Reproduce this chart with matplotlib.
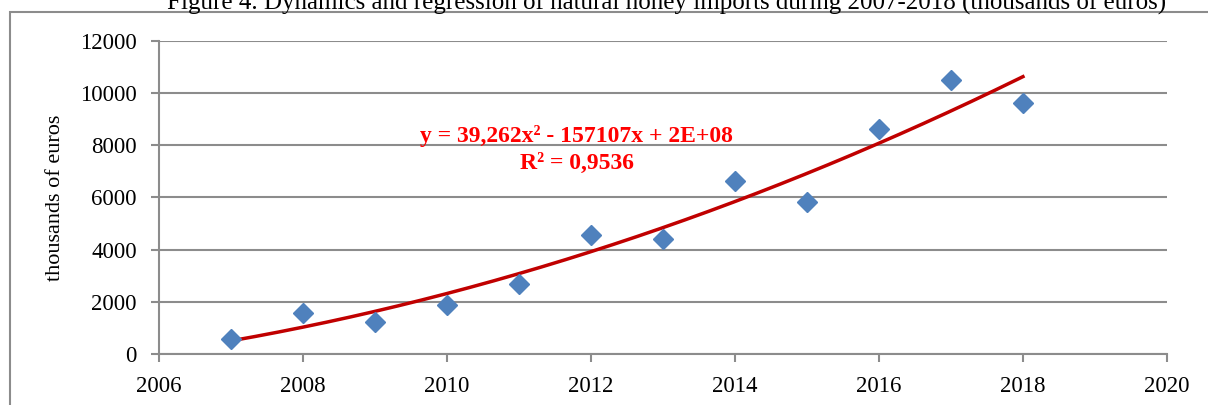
import numpy as np
import matplotlib
matplotlib.use('Agg')
import matplotlib.pyplot as plt
from matplotlib.patches import Rectangle

# 数据
years = [2007, 2008, 2009, 2010, 2011, 2012, 2013, 2014, 2015, 2016, 2017, 2018]
imports = [570, 1580, 1225, 1860, 2695, 4575, 4420, 6625, 5810, 8635, 10505, 9640]

title = 'Figure 4. Dynamics and regression of natural honey imports during 2007-2018 (thousands of euros)'
eq_text = 'y = 39,262x\u00b2 - 157107x + 2E+08\nR\u00b2 = 0,9536'

plt.rcParams['font.family'] = ['Liberation Serif', 'DejaVu Serif']

GRID = '#8c8c8c'

fig = plt.figure(figsize=(12.08, 4.05), dpi=100)
ax = fig.add_axes([0.1316, 0.1259, 0.966 - 0.1316, 0.8988 - 0.1259])

# 图表外框
fig.patches.append(Rectangle((10 / 1208, -0.2), 1.2, (405 - 12) / 405 + 0.2,
                             transform=fig.transFigure, fill=False,
                             edgecolor=GRID, linewidth=1.5))
fig.text(0.552, 0.993, title, ha='center', va='center', fontsize=18)

# 二次回归趋势线
x = np.array(years, dtype=float)
y = np.array(imports, dtype=float)
coef = np.polyfit(x - 2000, y, 2)
xs = np.linspace(x.min(), x.max(), 200)
ax.plot(xs, np.polyval(coef, xs - 2000), color='#c00000', linewidth=2.5, zorder=3)

ax.plot(years, imports, linestyle='none', marker='D', markersize=10.5,
        color='#4f81bd', zorder=4)

ax.text(2011.8, 7850, eq_text, color='#ff0000', fontsize=17, fontweight='bold',
        ha='center', va='center', linespacing=1.4, zorder=5)

ax.set_xlim(2006, 2020)
ax.set_ylim(0, 12000)
ax.set_xticks(range(2006, 2021, 2))
ax.set_yticks(range(0, 12001, 2000))
ax.grid(axis='y', color=GRID, linewidth=1.5)
ax.set_axisbelow(True)
for s in ['top', 'right']:
    ax.spines[s].set_visible(False)
for s in ['left', 'bottom']:
    ax.spines[s].set_color(GRID)
    ax.spines[s].set_linewidth(1.5)
ax.tick_params(axis='both', colors=GRID, labelcolor='black', labelsize=16.5,
               length=6, width=1.5, direction='out')
ax.tick_params(axis='y', pad=10)
ax.tick_params(axis='x', pad=10)
ax.set_ylabel('thousands of euros', fontsize=16, labelpad=11)

fig.savefig('out.png', dpi=100, facecolor='white')
